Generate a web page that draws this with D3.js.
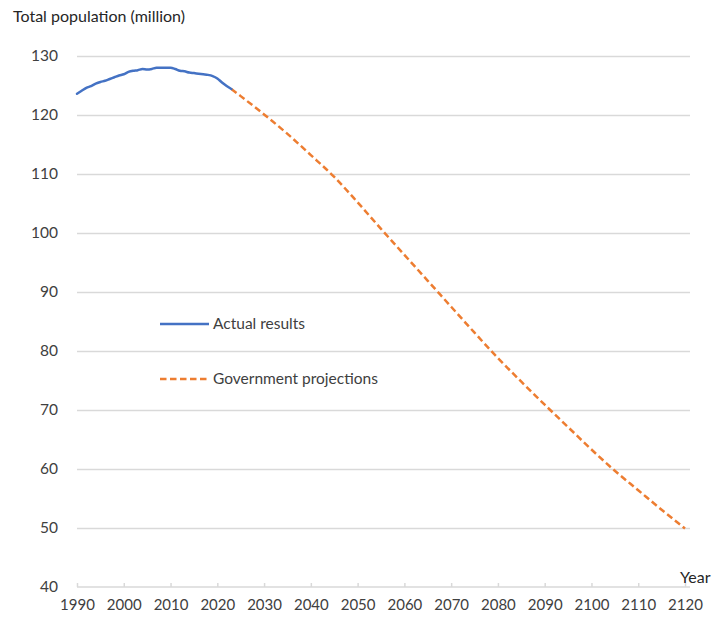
<!DOCTYPE html>
<html>
<head>
<meta charset="utf-8">
<script src="https://cdn.jsdelivr.net/npm/d3@7"></script>
<style>
  body { margin: 0; background: #fff; }
  text { font-family: Lato, "Noto Sans", sans-serif; }
</style>
</head>
<body>
<div id="chart"></div>
<script>
// actual results (million), 1990-2023
const actualYears = [1990, 1991, 1992, 1993, 1994, 1995, 1996, 1997, 1998, 1999,
                     2000, 2001, 2002, 2003, 2004, 2005, 2006, 2007, 2008, 2009,
                     2010, 2011, 2012, 2013, 2014, 2015, 2016, 2017, 2018, 2019,
                     2020, 2021, 2022, 2023];
const actualValues = [123.6, 124.1, 124.6, 124.9, 125.3, 125.6, 125.8, 126.1, 126.4, 126.7,
                      126.9, 127.3, 127.5, 127.6, 127.8, 127.7, 127.8, 128.0, 128.0, 128.0,
                      128.0, 127.8, 127.5, 127.4, 127.2, 127.1, 127.0, 126.9, 126.8, 126.6,
                      126.2, 125.5, 124.9, 124.4];

// government projections (million)
const projYears = [2023, 2025, 2030, 2035, 2040, 2045, 2050, 2055, 2060, 2065,
                   2070, 2075, 2080, 2085, 2090, 2095, 2100, 2105, 2110, 2115, 2120];
const projValues = [124.4, 123.2, 120.1, 116.8, 113.2, 109.5, 105.2, 100.7, 96.3, 91.9,
                    87.5, 83.1, 78.8, 74.8, 70.9, 67.1, 63.3, 59.7, 56.4, 53.1, 49.9];

const yTicks = [40, 50, 60, 70, 80, 90, 100, 110, 120, 130];
const xTicks = [1990, 2000, 2010, 2020, 2030, 2040, 2050, 2060, 2070, 2080, 2090, 2100, 2110, 2120];
const seriesNames = ["Actual results", "Government projections"];

const W = 717, H = 623;
const margin = { top: 56, left: 77, right: 32, bottom: 36 };
const width = W - margin.left - margin.right,
      height = H - margin.top - margin.bottom;

const svg = d3.select("#chart").append("svg")
    .attr("width", W)
    .attr("height", H);

const g = svg.append("g")
    .attr("transform", `translate(${margin.left},${margin.top})`);

const x = d3.scaleLinear().domain([1990, 2120]).range([0, width]);
const y = d3.scaleLinear().domain([40, 130]).range([height, 0]);

// horizontal gridlines + y labels
const yAxis = g.append("g")
  .call(d3.axisLeft(y).tickValues(yTicks).tickSize(-(width + 5)).tickPadding(19));
yAxis.select(".domain").remove();
yAxis.selectAll(".tick line").attr("stroke", "#d9d9d9").attr("stroke-width", 1.5);
yAxis.selectAll(".tick line").filter(d => d === 40).remove();
yAxis.selectAll(".tick text")
  .attr("fill", "#404040")
  .style("font-size", "15.5px");

// x axis with small upward ticks
const xAxis = g.append("g")
  .attr("transform", `translate(0,${height})`)
  .call(d3.axisBottom(x).tickValues(xTicks).tickFormat(d3.format("d")).tickSizeInner(-4).tickSizeOuter(0).tickPadding(12));
xAxis.select(".domain")
  .attr("d", `M0,0H${width + 5}`)
  .attr("stroke", "#d9d9d9").attr("stroke-width", 1.5);
xAxis.selectAll(".tick line").attr("stroke", "#d9d9d9").attr("stroke-width", 1.5);
xAxis.selectAll(".tick text")
  .attr("fill", "#404040")
  .style("font-size", "15px");

const line = d3.line()
  .x(d => x(d[0]))
  .y(d => y(d[1]))
  .curve(d3.curveMonotoneX);

const actual = actualYears.map((yr, i) => [yr, actualValues[i]]);
const proj = projYears.map((yr, i) => [yr, projValues[i]]);

g.append("path")
  .datum(proj)
  .attr("d", line)
  .attr("fill", "none")
  .attr("stroke", "#ed7d31")
  .attr("stroke-width", 2.5)
  .attr("stroke-dasharray", "6.5,3.5");

g.append("path")
  .datum(actual)
  .attr("d", line)
  .attr("fill", "none")
  .attr("stroke", "#4472c4")
  .attr("stroke-width", 2.5)
  .attr("stroke-linecap", "round");

// legend
const legend = svg.append("g").attr("transform", "translate(160,324)");
const legendItems = legend.selectAll("g")
  .data(seriesNames)
  .join("g")
  .attr("transform", (d, i) => `translate(0,${i * 55})`);
legendItems.append("line")
  .attr("x1", 0).attr("x2", 49)
  .attr("stroke", (d, i) => i === 0 ? "#4472c4" : "#ed7d31")
  .attr("stroke-width", 2.5)
  .attr("stroke-dasharray", (d, i) => i === 0 ? null : "6.5,3.5");
legendItems.append("text")
  .attr("x", 53)
  .attr("dy", "0.35em")
  .attr("fill", "#404040")
  .style("font-size", "15.5px")
  .text(d => d);

// axis titles
svg.append("text")
  .attr("x", 13).attr("y", 22)
  .attr("fill", "#262626")
  .style("font-size", "16px")
  .text("Total population (million)");

svg.append("text")
  .attr("x", 680).attr("y", 583)
  .attr("fill", "#262626")
  .style("font-size", "16px")
  .text("Year");
</script>
</body>
</html>
